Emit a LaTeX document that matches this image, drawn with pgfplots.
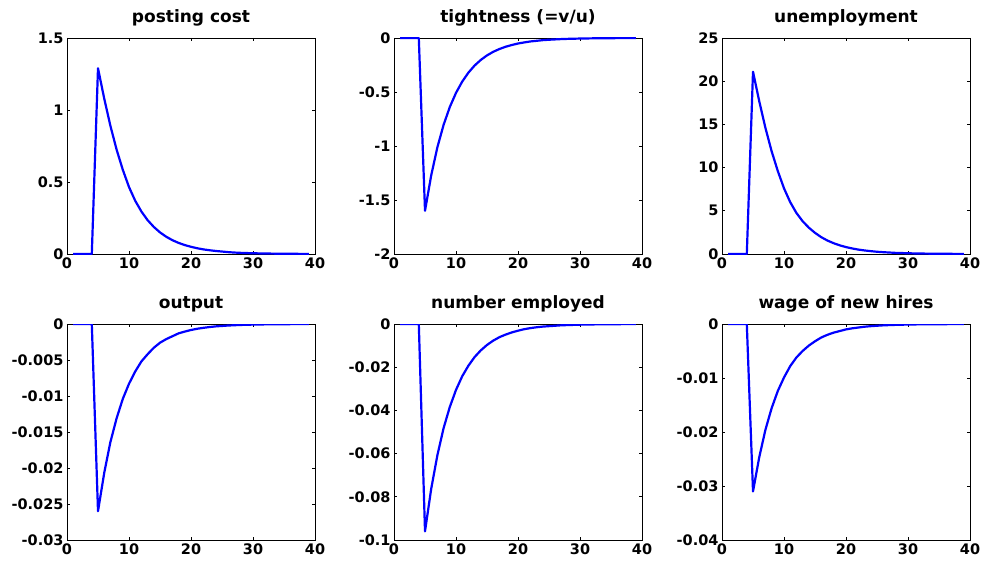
\documentclass[border=0pt]{standalone}
\usepackage{fontspec}
\setmainfont{DejaVu Sans}
\usepackage{pgfplots}
\usepackage{pgfplotstable}
\pgfplotsset{compat=1.18}

% impulse responses, t = 1..39
\pgfplotstableread{
t  post    tight    unemp   output    emp       wage
1  0       0        0       0         0         0
2  0       0        0       0         0         0
3  0       0        0       0         0         0
4  0       0        0       0         0         0
5  1.29    -1.6     21.1    -0.026    -0.096    -0.031
6  1.08    -1.272   17.7    -0.0207   -0.0763   -0.0247
7  0.89    -1.011   14.6    -0.0164   -0.0607   -0.0196
8  0.725   -0.804   11.9    -0.0131   -0.0482   -0.0156
9  0.585   -0.639   9.6     -0.0104   -0.0384   -0.0124
10 0.465   -0.508   7.6     -0.0083   -0.0305   -0.0099
11 0.37    -0.404   6.0     -0.0066   -0.0242   -0.0078
12 0.295   -0.321   4.75    -0.0052   -0.0193   -0.0062
13 0.235   -0.255   3.8     -0.0042   -0.0153   -0.0050
14 0.188   -0.203   3.05    -0.0033   -0.0122   -0.0040
15 0.150   -0.161   2.45    -0.0026   -0.0097   -0.0032
16 0.120   -0.128   1.95    -0.0021   -0.0077   -0.0025
17 0.096   -0.102   1.56    -0.0017   -0.0061   -0.0020
18 0.077   -0.081   1.25    -0.0013   -0.0049   -0.0016
19 0.062   -0.065   1.0     -0.00105  -0.0039   -0.0013
20 0.050   -0.051   0.8     -0.00083  -0.0031   -0.0010
21 0.040   -0.041   0.64    -0.00066  -0.0024   -0.0008
22 0.032   -0.032   0.51    -0.00053  -0.0019   -0.00065
23 0.026   -0.026   0.41    -0.00042  -0.0015   -0.0005
24 0.021   -0.020   0.33    -0.00033  -0.0012   -0.0004
25 0.017   -0.016   0.26    -0.00027  -0.0010   -0.00032
26 0.013   -0.013   0.21    -0.00021  -0.0008   -0.00025
27 0.010   -0.010   0.17    -0.00017  -0.0006   -0.0002
28 0.008   -0.008   0.13    -0.00013  -0.0005   -0.00016
29 0.0065  -0.0066  0.11    -0.00011  -0.0004   -0.00013
30 0.0052  -0.0051  0.085   -0.00008  -0.0003   -0.0001
31 0.0042  -0.0042  0.068   -0.00007  -0.00025  -0.00008
32 0.0033  -0.0032  0.054   -0.00005  -0.0002   -0.00006
33 0.0027  -0.0026  0.043   -0.00004  -0.00015  -0.00005
34 0.0021  -0.0021  0.035   -0.00003  -0.00012  -0.00004
35 0.0017  -0.0016  0.028   -0.00003  -0.0001   -0.00003
36 0.0014  -0.0013  0.022   -0.00002  -0.00008  -0.00003
37 0.0011  -0.0011  0.018   -0.00002  -0.00006  -0.00002
38 0.0009  -0.0008  0.014   -0.00001  -0.00005  -0.00002
39 0.0007  -0.0006  0.011   -0.00001  -0.00004  -0.00001
}\irf

\definecolor{mblue}{RGB}{0,0,255}

\pgfplotsset{
  panel/.style={
    width=248pt, height=216pt, scale only axis,
    anchor=south west,
    xmin=0, xmax=40, xtick={0,10,20,30,40},
    tick align=inside, tick pos=both,
    major tick length=3pt,
    axis line style={black, line width=0.9pt},
    every tick/.style={black, line width=0.9pt},
    scaled y ticks=false,
    /pgf/number format/assume math mode=true,
    yticklabel style={/pgf/number format/fixed, /pgf/number format/precision=3},
    tick label style={font=\fontsize{14.5}{14.5}\selectfont\bfseries},
    title style={font=\fontsize{17}{18}\selectfont\bfseries, yshift=2pt},
  },
  irfline/.style={mblue, line width=2.2pt, line join=round},
}

\begin{document}
\begin{tikzpicture}
  \useasboundingbox (0,0) rectangle (981pt,563pt);

  \begin{axis}[panel, at={(67pt,309pt)}, title={posting cost},
      ymin=0, ymax=1.5, ytick={0,0.5,1,1.5}]
    \addplot[irfline] table[x=t, y=post] {\irf};
  \end{axis}

  \begin{axis}[panel, at={(394pt,309pt)}, title={tightness (=v/u)},
      ymin=-2, ymax=0, ytick={-2,-1.5,-1,-0.5,0}]
    \addplot[irfline] table[x=t, y=tight] {\irf};
  \end{axis}

  \begin{axis}[panel, at={(722pt,309pt)}, title={unemployment},
      ymin=0, ymax=25, ytick={0,5,10,15,20,25}]
    \addplot[irfline] table[x=t, y=unemp] {\irf};
  \end{axis}

  \begin{axis}[panel, at={(67pt,23pt)}, title={output},
      ymin=-0.03, ymax=0, ytick={-0.03,-0.025,-0.02,-0.015,-0.01,-0.005,0}]
    \addplot[irfline] table[x=t, y=output] {\irf};
  \end{axis}

  \begin{axis}[panel, at={(394pt,23pt)}, title={number employed},
      ymin=-0.1, ymax=0, ytick={-0.1,-0.08,-0.06,-0.04,-0.02,0}]
    \addplot[irfline] table[x=t, y=emp] {\irf};
  \end{axis}

  \begin{axis}[panel, at={(722pt,23pt)}, title={wage of new hires},
      ymin=-0.04, ymax=0, ytick={-0.04,-0.03,-0.02,-0.01,0}]
    \addplot[irfline] table[x=t, y=wage] {\irf};
  \end{axis}
\end{tikzpicture}
\end{document}
